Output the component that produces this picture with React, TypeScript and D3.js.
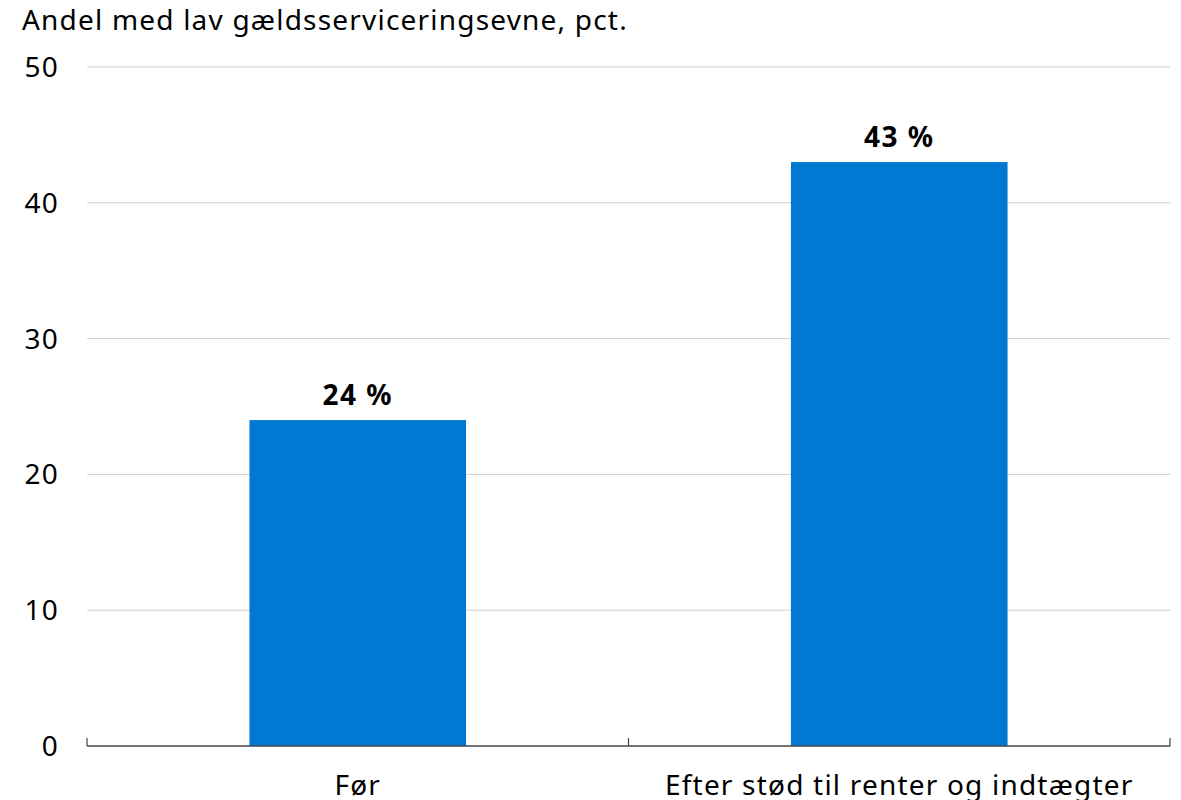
import React from "react";
import * as d3 from "d3";

const categories = ["Før", "Efter stød til renter og indtægter"];
const values = [24, 43];
const valueLabels = ["24 %", "43 %"];
const yTicks = [0, 10, 20, 30, 40, 50];
const title = "Andel med lav gældsserviceringsevne, pct.";

export default function App() {
  const W = 1181, H = 800;
  const left = 87, right = 1170, top = 67, bottom = 746;
  const x = d3.scaleBand<string>().domain(categories).range([left, right]).paddingInner(0.6).paddingOuter(0.3);
  const xEdges = d3.scaleLinear().domain([0, categories.length]).range([left, right]);
  const y = d3.scaleLinear().domain([0, 50]).range([bottom, top]);
  const font = "'Noto Sans', 'Open Sans', sans-serif";
  const ls = 1.2;
  return (
    <svg width={W} height={H} style={{ position: "absolute", left: 0, top: 0, background: "#fff" }} fontFamily={font}>
      <text x={22} y={30} fontSize={28} letterSpacing={ls} fill="#000">{title}</text>
      {yTicks.map(t => (
        <g key={t}>
          {t > 0 && <line x1={left} x2={right} y1={y(t)} y2={y(t)} stroke="#d0d0d0" strokeWidth={1} />}
          <text x={59} y={y(t)} dy="0.36em" textAnchor="end" fontSize={28} letterSpacing={ls} fill="#000">{t}</text>
        </g>
      ))}
      {categories.map((c, i) => (
        <g key={c}>
          <rect x={x(c)} y={y(values[i])} width={x.bandwidth()} height={y(0) - y(values[i])} fill="#0179d3" />
          <text x={x(c)! + x.bandwidth() / 2} y={y(values[i]) - 15} textAnchor="middle" fontSize={28} letterSpacing={1.5} fontWeight="bold" fill="#000">{valueLabels[i]}</text>
          <text x={x(c)! + x.bandwidth() / 2} y={795} textAnchor="middle" fontSize={28} letterSpacing={ls} fill="#000">{c}</text>
        </g>
      ))}
      <line x1={left} x2={right} y1={bottom} y2={bottom} stroke="#444" strokeWidth={1.5} />
      {d3.range(categories.length + 1).map(i => (
        <line key={i} x1={xEdges(i)} x2={xEdges(i)} y1={bottom} y2={bottom - 8} stroke="#444" strokeWidth={1.2} />
      ))}
    </svg>
  );
}
